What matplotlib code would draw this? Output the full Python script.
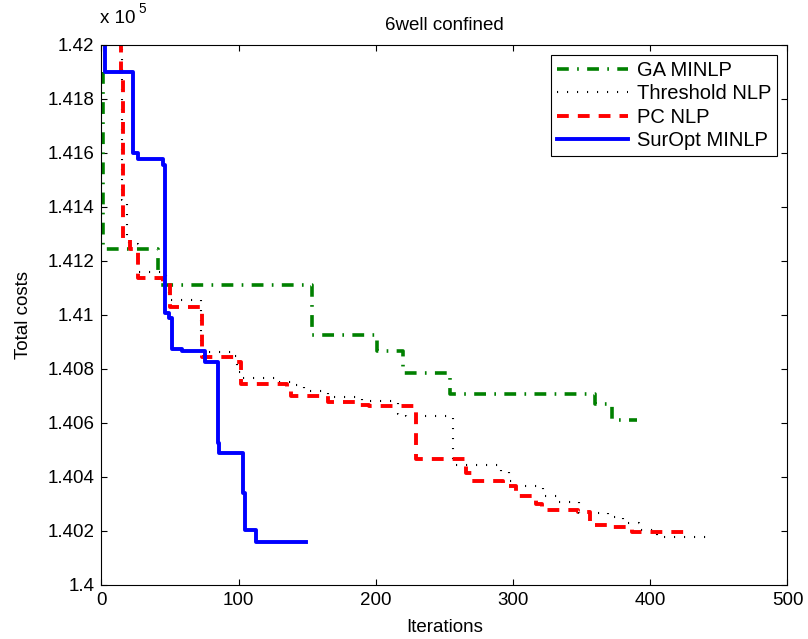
import numpy as np
import matplotlib
matplotlib.use('Agg')
import matplotlib.pyplot as plt
from matplotlib.ticker import FuncFormatter

plt.rcParams['font.family'] = ['Liberation Sans', 'DejaVu Sans']
plt.rcParams['lines.scale_dashes'] = False

# ---- data (iteration at which best cost changes, best total cost) ----
ga_iter = [1, 1, 41, 153.5, 201, 220, 254, 360, 372, 390]
ga_cost = [141900, 141243, 141111, 140925, 140865, 140783, 140705, 140669, 140611, 140611]

th_iter = [15, 15, 19, 20, 27, 47, 49, 72.6, 96, 99, 103, 128, 140, 145, 148, 165, 168, 190,
           216, 222, 256, 291, 297, 302, 322, 332, 348, 369, 380, 392, 405, 446]
th_cost = [142250, 141424, 141276, 141262, 141158, 141092, 141055, 140863, 140846, 140789,
           140764, 140752, 140740, 140733, 140718, 140699, 140694, 140681, 140632, 140626,
           140443, 140419, 140384, 140364, 140327, 140308, 140264, 140250, 140230, 140203,
           140178, 140178]

pc_iter = [14, 14, 16, 21, 27, 45, 50, 73, 97, 102, 135, 138, 165, 185, 195, 229, 266, 270,
           293, 302, 317, 321, 347, 356, 373, 387, 427]
pc_cost = [142250, 141880, 141280, 141245, 141137, 141120, 141030, 140845, 140825, 140745,
           140730, 140700, 140676, 140666, 140662, 140464, 140413, 140384, 140366, 140330,
           140299, 140277, 140271, 140220, 140212, 140195, 140195]

so_iter = [3, 3, 23, 27, 45, 46.5, 49.3, 51.3, 59, 75.5, 84.8, 86, 103, 104.7, 112.7, 149]
so_cost = [142350, 141900, 141600, 141576, 141554, 141005, 140987, 140872, 140867, 140826,
           140524, 140489, 140339, 140203, 140159, 140159]

x_ticks = [0, 100, 200, 300, 400, 500]
y_ticks = [140000 + 200 * i for i in range(11)]

fig = plt.figure(figsize=(8.08, 6.39), dpi=100)
ax = fig.add_axes([0.1254, 0.085, 0.8492, 0.845])

fs = 13.5
ax.plot(ga_iter, ga_cost, color=(0, 0.5, 0), lw=2.6, ls=(0, (8.5, 6.0, 1.2, 6.0)),
        drawstyle='steps-post', label='GA MINLP', dash_capstyle='butt')
ax.plot(th_iter, th_cost, color='black', lw=1.5, ls=(0, (0.8, 6.4)),
        drawstyle='steps-post', label='Threshold NLP', dash_capstyle='butt')
ax.plot(pc_iter, pc_cost, color='red', lw=2.8, ls=(0, (8.5, 6.5)),
        drawstyle='steps-post', label='PC NLP', dash_capstyle='butt')
ax.plot(so_iter, so_cost, color='blue', lw=2.8, drawstyle='steps-post', label='SurOpt MINLP')

ax.set_xlim(0, 500)
ax.set_ylim(140000, 142000)
ax.set_xticks(x_ticks)
ax.set_yticks(y_ticks)
ax.yaxis.set_major_formatter(FuncFormatter(lambda v, p: '%g' % round(v / 1e5, 4)))
ax.tick_params(direction='in', top=True, right=True, length=4.5, width=0.8, labelsize=fs, pad=5)
for s in ax.spines.values():
    s.set_linewidth(0.8)

ax.set_title('6well confined', fontsize=fs, pad=10.5)
ax.set_xlabel('Iterations', fontsize=fs)
ax.set_ylabel('Total costs', fontsize=fs)
ax.yaxis.set_label_coords(-0.101, 0.5)
ax.xaxis.set_label_coords(0.5, -0.063)
ax.xaxis.label.set_va('top')

fig.text(100 / 808, 1 - 23 / 639, 'x 10', fontsize=fs, va='baseline', ha='left')
fig.text(138 / 808, 1 - 13 / 639, '5', fontsize=fs * 0.72, va='baseline', ha='left')

leg = ax.legend(loc='upper right', fontsize=14.5, fancybox=False, edgecolor='black',
                handlelength=3.5, handletextpad=0.45, borderaxespad=0.5, framealpha=1,
                labelspacing=0.22, borderpad=0.3)
leg.get_frame().set_linewidth(0.8)

fig.savefig('out.png', dpi=100)
